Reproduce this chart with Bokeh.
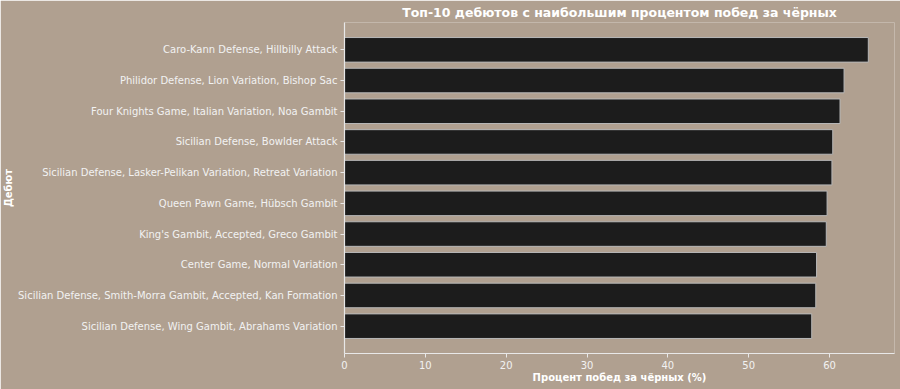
from bokeh.plotting import figure
from bokeh.models import Range1d, FixedTicker
from bokeh.embed import file_html
from bokeh.resources import INLINE

openings = [
    "Caro-Kann Defense, Hillbilly Attack",
    "Philidor Defense, Lion Variation, Bishop Sac",
    "Four Knights Game, Italian Variation, Noa Gambit",
    "Sicilian Defense, Bowlder Attack",
    "Sicilian Defense, Lasker-Pelikan Variation, Retreat Variation",
    "Queen Pawn Game, Hübsch Gambit",
    "King's Gambit, Accepted, Greco Gambit",
    "Center Game, Normal Variation",
    "Sicilian Defense, Smith-Morra Gambit, Accepted, Kan Formation",
    "Sicilian Defense, Wing Gambit, Abrahams Variation",
]
black_win_pct = [64.8, 61.8, 61.3, 60.4, 60.3, 59.7, 59.6, 58.4, 58.3, 57.8]

n = len(openings)
ypos = [n - 1 - i for i in range(n)]
xmax = max(black_win_pct) * 1.05

BG = "#b0a090"
FG = "#f2f2f2"
FONT = "DejaVu Sans"

p = figure(width=900, height=389, output_backend="svg", toolbar_location=None,
           x_range=Range1d(0, xmax), y_range=Range1d(-0.89, n - 1 + 0.89),
           min_border_left=0, min_border_right=6, min_border_top=22, min_border_bottom=36)
p.background_fill_color = BG
p.border_fill_color = BG
p.outline_line_color = None
p.outline_line_alpha = 0
p.outline_line_width = 0
p.xgrid.visible = False
p.ygrid.visible = False
p.xgrid.grid_line_color = None
p.ygrid.grid_line_color = None

p.hbar(y=ypos, right=black_win_pct, left=0, height=0.8,
       fill_color="#1c1c1c", line_color="#b8b8b8", line_width=1)

p.title.text = "Топ-10 дебютов с наибольшим процентом побед за чёрных"
p.title.align = "center"
p.title.text_color = "#ffffff"
p.title.text_font = FONT
p.title.text_font_size = "12.5px"
p.title.text_font_style = "bold"
p.title.offset = 0
p.title.standoff = 5

p.yaxis.ticker = FixedTicker(ticks=ypos)
p.yaxis.major_label_overrides = {y: name for y, name in zip(ypos, openings)}
p.xaxis.ticker = FixedTicker(ticks=[0, 10, 20, 30, 40, 50, 60])

p.xaxis.axis_label = "Процент побед за чёрных (%)"
p.yaxis.axis_label = "Дебют"

for ax in (p.xaxis, p.yaxis):
    ax.axis_line_color = "#e8e8e8"
    ax.axis_line_width = 1.2
    ax.major_tick_line_color = "#e8e8e8"
    ax.major_tick_in = 0
    ax.major_tick_out = 4
    ax.minor_tick_line_color = None
    ax.major_label_text_color = FG
    ax.major_label_text_font = FONT
    ax.major_label_text_font_size = "10px"
    ax.axis_label_text_color = "#ffffff"
    ax.axis_label_text_font = FONT
    ax.axis_label_text_font_size = "10px"
    ax.axis_label_text_font_style = "bold"

p.xaxis.major_label_standoff = 3
p.yaxis.major_label_standoff = 3
p.xaxis.axis_label_standoff = 0
p.yaxis.axis_label_standoff = 1

open("out.html", "w").write(file_html(p, INLINE))
